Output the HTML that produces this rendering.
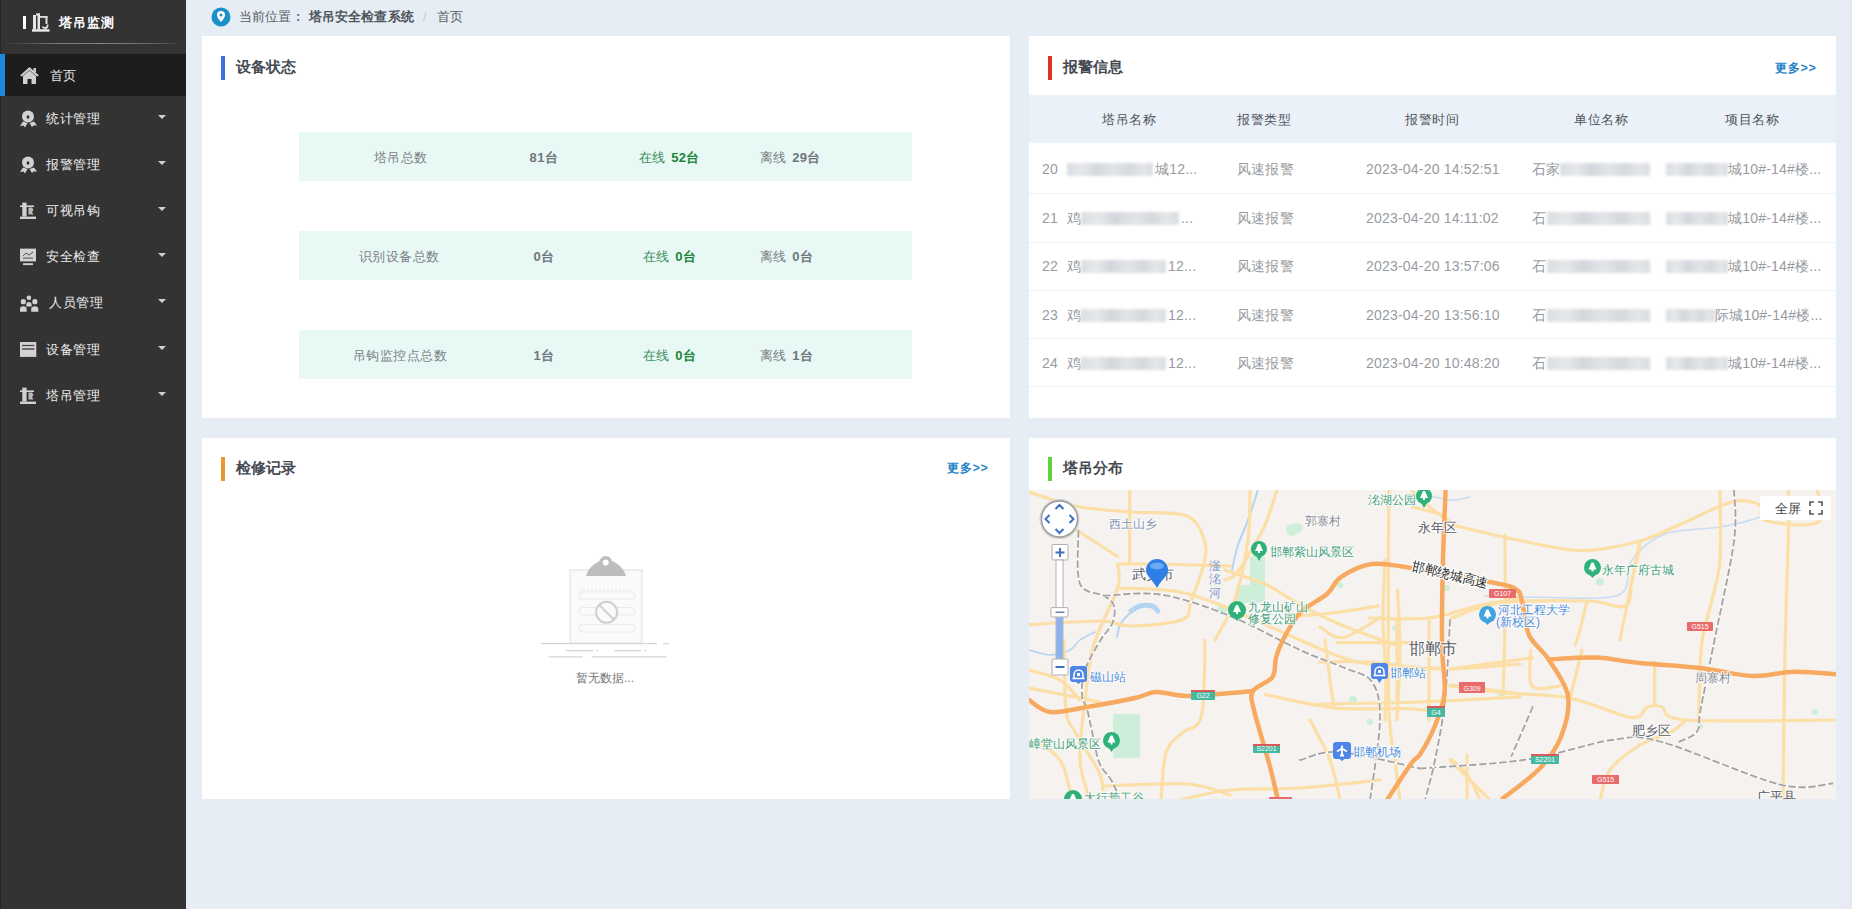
<!DOCTYPE html>
<html><head><meta charset="utf-8">
<style>
*{margin:0;padding:0;box-sizing:border-box}
html,body{width:1870px;height:909px;overflow:hidden;background:#fff;font-family:"Liberation Sans",sans-serif;}
.abs{position:absolute}
#side{position:absolute;left:0;top:0;width:186px;height:909px;background:#333333}
#main{position:absolute;left:186px;top:0;width:1666px;height:909px;background:#e7edf5}
#strip{position:absolute;left:1840px;top:0;width:12px;height:909px;background:linear-gradient(90deg,#e8eaf6 0,#e8eaf6 10px,#e4e8ee 10px)}
.card{position:absolute;background:#fff}
.bar{position:absolute;width:4px;height:24px}
.ttl{position:absolute;font-size:15px;font-weight:900;color:#454a52;line-height:16px;white-space:nowrap}
.more{position:absolute;font-size:12px;font-weight:bold;color:#2482c6;line-height:12px;letter-spacing:0.9px;white-space:nowrap}
.mi{position:absolute;left:0;width:186px;height:42px;color:#e6e6e6;font-size:13px}
.mi .t{position:absolute;left:46px;top:15px;line-height:13px;letter-spacing:0.6px;color:#eeeeee;white-space:nowrap}
.mi .ar{position:absolute;left:158px;top:18px;width:0;height:0;border-left:4.5px solid transparent;border-right:4.5px solid transparent;border-top:4.5px solid #d0d0d0}
.mi svg{position:absolute;left:20px;top:12px}
.srow{position:absolute;left:97px;width:613px;height:49px;background:#e8f8f5;font-size:13px;color:#7a7f85}
.srow span{position:absolute;top:19px;line-height:13px;white-space:nowrap}
.srow b{color:#6f757c;letter-spacing:0.4px;margin-left:2.5px}
.srow .lb{letter-spacing:0.45px}
.on{color:#3d8f5c}
.on b{color:#1b8535 !important}
.th{position:absolute;top:18px;font-size:13px;color:#50545a;letter-spacing:0.5px;line-height:13px;white-space:nowrap}
.tr{position:absolute;left:0;width:807px;height:49px;border-bottom:1px solid #eef1f5}
.td{position:absolute;top:19px;font-size:14px;color:#979ba1;letter-spacing:0.2px;line-height:14px;white-space:nowrap}
.blur{position:absolute;background:linear-gradient(90deg,#dadde1,#e6e8eb 18%,#d3d6db 35%,#e2e5e8 55%,#d5d8dc 72%,#e4e6e9 88%,#d9dce0);filter:blur(1.5px)}
</style></head>
<body>
<div id="side">
  <div class="abs" style="left:0;top:0;width:1px;height:909px;background:#272727"></div>
  <!-- logo -->
  <div class="abs" style="left:23px;top:16px;width:3px;height:13px;background:#fff"></div>
  <svg class="abs" style="left:32px;top:13px" width="19" height="19" viewBox="0 0 19 19">
    <rect x="1" y="2" width="3" height="14.5" fill="#e6e6e6"/>
    <rect x="5.5" y="0.5" width="2.5" height="16" fill="#e6e6e6"/>
    <rect x="4" y="0.5" width="4" height="2" fill="#e6e6e6"/>
    <rect x="8" y="3" width="7.5" height="1.8" fill="#e0e0e0"/>
    <rect x="13.5" y="3" width="2" height="8" fill="#e0e0e0"/>
    <path d="M15.5,11.5 q0.5,3.5 -2.5,3.5 q-2,0 -2.5,-1.5" stroke="#e0e0e0" stroke-width="1.8" fill="none"/>
    <rect x="0" y="16.2" width="17.5" height="2.5" fill="#e6e6e6"/>
  </svg>
  <div class="abs" style="left:59px;top:16px;font-size:13px;font-weight:bold;color:#fff;line-height:13px;letter-spacing:1px;white-space:nowrap">塔吊监测</div>
  <div class="abs" style="left:6px;top:43px;width:172px;height:1px;background:linear-gradient(90deg,#3a3a3a,#4e4e4e 12%,#7a7a7a 30%,#858585 55%,#6a6a6a 85%,#3a3a3a)"></div>
  <!-- active -->
  <div class="abs" style="left:0;top:54px;width:186px;height:42px;background:#1d1d1d"></div>
  <div class="abs" style="left:0;top:54px;width:5px;height:42px;background:#1a8be0"></div>
  <svg class="abs" style="left:20px;top:67px" width="19" height="17" viewBox="0 0 19 17">
    <path d="M9.5 0 L0 8.5 L2 9.5 L9.5 3 L17 9.5 L19 8.5 Z" fill="#cfcfcf"/>
    <path d="M3 9 L9.5 3.5 L16 9 V17 H11.5 V12 H7.5 V17 H3 Z" fill="#cfcfcf"/>
    <rect x="13.5" y="1" width="2.5" height="4" fill="#cfcfcf"/>
  </svg>
  <div class="abs" style="left:50px;top:69px;font-size:13px;color:#e8e8e8;line-height:13px">首页</div>
  <!-- menu items -->
  <div class="mi" style="top:97px"><svg width="18" height="19" viewBox="0 0 18 19"><path d="M3,12.5 L0,17 L3.5,16.5 L5,18.5 L7.5,14 Z M14,12.5 L17,16.5 L13.5,16.5 L12,18 L9.5,14 Z" fill="#d2d2d2"/><circle cx="8" cy="7.5" r="6" fill="#d2d2d2"/><ellipse cx="8" cy="8" rx="1.4" ry="1.8" fill="#2a2a2a"/></svg><div class="t">统计管理</div><div class="ar"></div></div>
  <div class="mi" style="top:143px"><svg width="18" height="19" viewBox="0 0 18 19"><path d="M3,12.5 L0,17 L3.5,16.5 L5,18.5 L7.5,14 Z M14,12.5 L17,16.5 L13.5,16.5 L12,18 L9.5,14 Z" fill="#d2d2d2"/><circle cx="8" cy="7.5" r="6" fill="#d2d2d2"/><ellipse cx="8" cy="8" rx="1.4" ry="1.8" fill="#2a2a2a"/></svg><div class="t">报警管理</div><div class="ar"></div></div>
  <div class="mi" style="top:189px"><svg width="18" height="19" viewBox="0 0 18 19"><rect x="2.3" y="1.6" width="4.3" height="14" fill="#d2d2d2"/><rect x="0" y="4.4" width="14" height="1.6" fill="#d2d2d2"/><path d="M8.5,6.5 h3.5 l1.5,2.5 l-1.5,2 l1.5,2.5 h-5z" fill="#d2d2d2" opacity="0.85"/><rect x="0" y="15.6" width="16" height="2.4" fill="#d2d2d2"/></svg><div class="t">可视吊钩</div><div class="ar"></div></div>
  <div class="mi" style="top:235px"><svg width="18" height="19" viewBox="0 0 18 19"><rect x="0" y="1.6" width="16" height="12.8" fill="#d2d2d2"/><path d="M3,9 L6,6 L9,8 L13,5" stroke="#555" stroke-width="1" fill="none"/><rect x="3" y="10.5" width="10" height="1.2" fill="#666"/><rect x="3" y="16.2" width="10" height="1.9" fill="#d2d2d2"/></svg><div class="t">安全检查</div><div class="ar"></div></div>
  <div class="mi" style="top:281px"><svg width="19" height="19" viewBox="0 0 19 19"><circle cx="8.9" cy="4.7" r="2.3" fill="#d2d2d2"/><circle cx="3.3" cy="8.7" r="2.6" fill="#d2d2d2"/><circle cx="14.9" cy="8.7" r="2.6" fill="#d2d2d2"/><path d="M6.3,13.6 v-2 q0,-2.6 2.6,-2.6 q2.7,0 2.7,2.6 v2z" fill="#d2d2d2"/><path d="M0,18.7 v-3 q0,-2.5 3.3,-2.5 q3.3,0 3.3,2.5 v3z M11.2,18.7 v-3 q0,-2.5 3.6,-2.5 q3.5,0 3.5,2.5 v3z" fill="#d2d2d2"/></svg><div class="t" style="left:49px">人员管理</div><div class="ar"></div></div>
  <div class="mi" style="top:328px"><svg width="18" height="19" viewBox="0 0 18 19"><rect x="0" y="2" width="16.3" height="14.9" fill="#d2d2d2"/><rect x="2" y="4.9" width="12.3" height="1.2" fill="#444"/><rect x="2" y="8.3" width="12.3" height="1.4" fill="#444"/></svg><div class="t">设备管理</div><div class="ar"></div></div>
  <div class="mi" style="top:374px"><svg width="18" height="19" viewBox="0 0 18 19"><rect x="2.3" y="1.6" width="4.3" height="14" fill="#d2d2d2"/><rect x="0" y="4.4" width="14" height="1.6" fill="#d2d2d2"/><path d="M8.5,6.5 h3.5 l1.5,2.5 l-1.5,2 l1.5,2.5 h-5z" fill="#d2d2d2" opacity="0.85"/><rect x="0" y="15.6" width="16" height="2.4" fill="#d2d2d2"/></svg><div class="t">塔吊管理</div><div class="ar"></div></div>
</div>

<div id="main">
  <!-- breadcrumb -->
  <svg class="abs" style="left:25px;top:7px" width="20" height="20" viewBox="0 0 20 20">
    <circle cx="10" cy="10" r="9.5" fill="#1a90c8"/>
    <path d="M10 4 a4 4 0 0 1 4 4 c0 3 -4 7 -4 7 c0 0 -4 -4 -4 -7 a4 4 0 0 1 4 -4z" fill="#fff"/>
    <circle cx="10" cy="8" r="1.5" fill="#1a90c8"/>
  </svg>
  <div class="abs" style="left:53px;top:10px;font-size:13px;color:#5a5e64;line-height:13px;white-space:nowrap">当前位置</div>
  <div class="abs" style="left:110px;top:10px;font-size:13px;font-weight:bold;color:#5a5e64;line-height:13px">:</div>
  <div class="abs" style="left:123px;top:10px;font-size:13px;font-weight:bold;color:#50555c;line-height:13px;letter-spacing:0.1px;white-space:nowrap">塔吊安全检查系统</div>
  <div class="abs" style="left:237px;top:10px;font-size:13px;color:#c4c8ce;line-height:13px">/</div>
  <div class="abs" style="left:251px;top:10px;font-size:13px;color:#5a5e64;line-height:13px;white-space:nowrap">首页</div>
</div>
<div id="strip"></div>

<!-- card 1 -->
<div class="card" style="left:202px;top:36px;width:808px;height:382px">
  <div class="bar" style="left:19px;top:20px;background:#3b70e0"></div>
  <div class="ttl" style="left:34px;top:23px">设备状态</div>
  <div class="srow" style="top:96px"><span class="lb" style="left:75px">塔吊总数</span><span style="left:228px"><b>81台</b></span><span class="on" style="left:340px">在线 <b>52台</b></span><span style="left:461px">离线 <b>29台</b></span></div>
  <div class="srow" style="top:195px"><span class="lb" style="left:60px">识别设备总数</span><span style="left:232px"><b>0台</b></span><span class="on" style="left:344px">在线 <b>0台</b></span><span style="left:461px">离线 <b>0台</b></span></div>
  <div class="srow" style="top:294px"><span class="lb" style="left:54px">吊钩监控点总数</span><span style="left:232px"><b>1台</b></span><span class="on" style="left:344px">在线 <b>0台</b></span><span style="left:461px">离线 <b>1台</b></span></div>
</div>

<!-- card 2 -->
<div class="card" style="left:1029px;top:36px;width:807px;height:382px;overflow:hidden">
  <div class="bar" style="left:19px;top:20px;background:#e0302a"></div>
  <div class="ttl" style="left:34px;top:23px">报警信息</div>
  <div class="more" style="left:746px;top:26px">更多&gt;&gt;</div>
  <div class="abs" style="left:0;top:59px;width:807px;height:48px;background:#eaf1f9">
    <div class="th" style="left:73px">塔吊名称</div>
    <div class="th" style="left:208px">报警类型</div>
    <div class="th" style="left:376px">报警时间</div>
    <div class="th" style="left:545px">单位名称</div>
    <div class="th" style="left:696px">项目名称</div>
  </div>
  <div class="tr" style="top:107px;height:51px">
<div class="td" style="left:13px">20</div>
<div class="blur" style="left:38px;top:20px;width:86px;height:13px"></div>
<div class="td" style="left:126px">城12...</div>
<div class="td" style="left:208px">风速报警</div>
<div class="td" style="left:337px">2023-04-20 14:52:51</div>
<div class="td" style="left:503px">石家</div>
<div class="blur" style="left:531px;top:20px;width:90px;height:13px"></div>
<div class="blur" style="left:637px;top:20px;width:62px;height:13px"></div>
<div class="td" style="left:699px">城10#-14#楼...</div>
</div>
<div class="tr" style="top:156px;height:51px">
<div class="td" style="left:13px">21</div>
<div class="td" style="left:38px">鸡</div>
<div class="blur" style="left:52px;top:20px;width:98px;height:13px"></div>
<div class="td" style="left:152px">...</div>
<div class="td" style="left:208px">风速报警</div>
<div class="td" style="left:337px">2023-04-20 14:11:02</div>
<div class="td" style="left:503px">石</div>
<div class="blur" style="left:518px;top:20px;width:103px;height:13px"></div>
<div class="blur" style="left:637px;top:20px;width:62px;height:13px"></div>
<div class="td" style="left:699px">城10#-14#楼...</div>
</div>
<div class="tr" style="top:204px;height:51px">
<div class="td" style="left:13px">22</div>
<div class="td" style="left:38px">鸡</div>
<div class="blur" style="left:52px;top:20px;width:85px;height:13px"></div>
<div class="td" style="left:139px">12...</div>
<div class="td" style="left:208px">风速报警</div>
<div class="td" style="left:337px">2023-04-20 13:57:06</div>
<div class="td" style="left:503px">石</div>
<div class="blur" style="left:518px;top:20px;width:103px;height:13px"></div>
<div class="blur" style="left:637px;top:20px;width:62px;height:13px"></div>
<div class="td" style="left:699px">城10#-14#楼...</div>
</div>
<div class="tr" style="top:253px;height:50px">
<div class="td" style="left:13px">23</div>
<div class="td" style="left:38px">鸡</div>
<div class="blur" style="left:52px;top:20px;width:85px;height:13px"></div>
<div class="td" style="left:139px">12...</div>
<div class="td" style="left:208px">风速报警</div>
<div class="td" style="left:337px">2023-04-20 13:56:10</div>
<div class="td" style="left:503px">石</div>
<div class="blur" style="left:518px;top:20px;width:103px;height:13px"></div>
<div class="blur" style="left:637px;top:20px;width:49px;height:13px"></div>
<div class="td" style="left:686px">际城10#-14#楼...</div>
</div>
<div class="tr" style="top:301px;height:50px">
<div class="td" style="left:13px">24</div>
<div class="td" style="left:38px">鸡</div>
<div class="blur" style="left:52px;top:20px;width:85px;height:13px"></div>
<div class="td" style="left:139px">12...</div>
<div class="td" style="left:208px">风速报警</div>
<div class="td" style="left:337px">2023-04-20 10:48:20</div>
<div class="td" style="left:503px">石</div>
<div class="blur" style="left:518px;top:20px;width:103px;height:13px"></div>
<div class="blur" style="left:637px;top:20px;width:62px;height:13px"></div>
<div class="td" style="left:699px">城10#-14#楼...</div>
</div></div>
</div>

<!-- card 3 -->
<div class="card" style="left:202px;top:438px;width:808px;height:361px">
  <div class="bar" style="left:19px;top:19px;background:#e8982e"></div>
  <div class="ttl" style="left:34px;top:22px">检修记录</div>
  <div class="more" style="left:745px;top:24px">更多&gt;&gt;</div>
  <svg class="abs" style="left:0;top:0" width="808" height="361" viewBox="0 0 808 361">
<rect x="368" y="132" width="72" height="73" fill="#fafafa" stroke="#e3e3e3" stroke-width="1.2"/>
<path d="M384,138 Q388,125 404,121 Q420,125 424,138Z" fill="#bdbdbd"/>
<circle cx="403.70000000000005" cy="124.5" r="6.5" fill="#bdbdbd"/>
<circle cx="403.70000000000005" cy="124.5" r="3" fill="#fff"/>
<path d="M377,152 h56" stroke="#e2e2e2" stroke-width="1" stroke-dasharray="2 2"/>
<rect x="377" y="154" width="56" height="7" rx="3.5" fill="none" stroke="#eaeaea" stroke-width="1"/>
<rect x="377" y="169.5" width="56" height="7.5" rx="3.7" fill="none" stroke="#eaeaea" stroke-width="1"/>
<rect x="377" y="186.5" width="56" height="7.5" rx="3.7" fill="none" stroke="#eaeaea" stroke-width="1"/>
<circle cx="404.6" cy="174.29999999999995" r="10.5" fill="#fafafa" stroke="#cfcfcf" stroke-width="2"/>
<path d="M397.20000000000005,166.89999999999998 L412,181.70000000000005" stroke="#cfcfcf" stroke-width="2"/>
<path d="M339,205.70000000000005 H455 M461,205.70000000000005 H467" stroke="#d6d6d6" stroke-width="1.3"/>
<path d="M363.5,212.70000000000005 H391.5 M394,212.70000000000005 H396 M412,212.70000000000005 H439 M442,212.70000000000005 H444" stroke="#d6d6d6" stroke-width="1.2"/>
<path d="M346.6,218.79999999999995 H381 M389.70000000000005,218.79999999999995 H464.5" stroke="#d6d6d6" stroke-width="1.3"/>
</svg>
  <div class="abs" style="left:374px;top:234px;font-size:12px;color:#777;line-height:12px;white-space:nowrap">暂无数据...</div>
</div>

<!-- card 4 -->
<div class="card" style="left:1029px;top:438px;width:807px;height:361px;overflow:hidden">
  <div class="bar" style="left:19px;top:19px;background:#5fd33a"></div>
  <div class="ttl" style="left:34px;top:22px">塔吊分布</div>
  <div id="map" class="abs" style="left:0;top:52px;width:807px;height:309px;background:#f6f2ef"><svg width="807" height="309" viewBox="0 0 807 309" style="position:absolute;left:0;top:0;font-family:'Liberation Sans',sans-serif"><rect x="84.0" y="224.0" width="27.0" height="44.0" fill="#cdeed8" rx="2"/><path d="M61.0,40.0 C61.8,41.7 65.2,48.3 66.0,50.0" fill="none" stroke="#cdeed8" stroke-width="0" stroke-linejoin="round" stroke-linecap="round" /><circle cx="269" cy="38" r="5" fill="#cdeed8"/><circle cx="311" cy="95" r="3" fill="#cdeed8"/><circle cx="418" cy="98" r="3" fill="#cdeed8"/><circle cx="571" cy="92" r="4" fill="#cdeed8"/><circle cx="324" cy="210" r="4" fill="#cdeed8"/><circle cx="341" cy="232" r="3" fill="#cdeed8"/><circle cx="471" cy="205" r="2" fill="#cdeed8"/><circle cx="671" cy="236" r="3" fill="#cdeed8"/><circle cx="786" cy="222" r="3" fill="#cdeed8"/><circle cx="193" cy="120" r="5" fill="#cdeed8"/><circle cx="366" cy="138" r="3" fill="#cdeed8"/><rect x="221.0" y="66.0" width="15.0" height="46.0" fill="#cdeed8" rx="3"/><rect x="207.0" y="95.0" width="26.0" height="18.0" fill="#cdeed8" rx="3"/><circle cx="263" cy="40" r="6" fill="#cdeed8"/><path d="M102.0,121.0 C103.5,120.2 107.5,116.8 111.0,116.0 C114.5,115.2 120.0,115.2 123.0,116.0 C126.0,116.8 128.0,120.2 129.0,121.0" fill="none" stroke="#b5d4f2" stroke-width="5" stroke-linejoin="round" stroke-linecap="round" /><path d="M88.0,147.0 C88.5,145.0 89.2,138.7 91.0,135.0 C92.8,131.3 96.5,127.5 99.0,125.0 C101.5,122.5 104.8,120.8 106.0,120.0" fill="none" stroke="#b5d4f2" stroke-width="2" stroke-linejoin="round" stroke-linecap="round" /><path d="M0.0,160.0 C3.5,160.8 14.2,165.0 21.0,165.0 C27.8,165.0 36.0,162.5 41.0,160.0 C46.0,157.5 46.8,153.0 51.0,150.0 C55.2,147.0 63.5,143.3 66.0,142.0" fill="none" stroke="#b5d4f2" stroke-width="1.5" stroke-linejoin="round" stroke-linecap="round" /><path d="M229.0,0.0 C227.3,5.0 222.3,20.8 219.0,30.0 C215.7,39.2 211.7,46.7 209.0,55.0 C206.3,63.3 204.0,75.8 203.0,80.0" fill="none" stroke="#b5d4f2" stroke-width="2" stroke-linejoin="round" stroke-linecap="round" /><path d="M456.0,106.0 C463.5,106.2 481.8,106.7 501.0,107.0 C520.2,107.3 555.2,109.2 571.0,108.0 C586.8,106.8 590.7,106.3 596.0,100.0 C601.3,93.7 596.3,79.3 603.0,70.0 C609.7,60.7 621.3,49.5 636.0,44.0 C650.7,38.5 675.2,39.8 691.0,37.0 C706.8,34.2 721.8,30.7 731.0,27.0 C740.2,23.3 743.5,17.0 746.0,15.0" fill="none" stroke="#c8dcf2" stroke-width="1.5" stroke-linejoin="round" stroke-linecap="round" /><path d="M391.0,3.0 C396.0,4.2 412.7,9.3 421.0,10.0 C429.3,10.7 437.7,7.5 441.0,7.0" fill="none" stroke="#c8dcf2" stroke-width="1.5" stroke-linejoin="round" stroke-linecap="round" /><path d="M0.0,2.0 C7.7,4.3 29.2,12.7 46.0,16.0 C62.8,19.3 82.5,20.4 101.0,22.0 C119.5,23.6 144.6,20.8 157.0,25.6 C169.4,30.4 172.8,42.5 175.6,51.0 C178.4,59.5 176.3,66.7 174.0,76.7 C171.7,86.7 165.4,102.0 162.0,110.8 C158.6,119.6 163.4,125.4 153.4,129.6 C143.4,133.8 115.6,135.8 102.0,136.0 C88.4,136.2 88.6,131.2 71.6,131.0 C54.6,130.8 11.9,134.1 0.0,134.7" fill="none" stroke="#fbdfa6" stroke-width="3.2" stroke-linejoin="round" stroke-linecap="round" /><path d="M90.0,74.0 C96.8,74.0 112.5,73.7 131.0,74.0 C149.5,74.3 189.3,75.7 201.0,76.0" fill="none" stroke="#fbdfa6" stroke-width="3.2" stroke-linejoin="round" stroke-linecap="round" /><path d="M88.6,98.0 C99.0,98.7 132.3,98.5 151.0,102.0 C169.7,105.5 181.0,111.0 201.0,119.0 C221.0,127.0 251.0,141.5 271.0,150.0 C291.0,158.5 304.3,165.3 321.0,170.0 C337.7,174.7 355.5,176.7 371.0,178.0 C386.5,179.3 406.8,178.0 414.0,178.0" fill="none" stroke="#fbdfa6" stroke-width="3.2" stroke-linejoin="round" stroke-linecap="round" /><path d="M88.6,74.0 C88.6,78.0 92.6,84.5 88.6,98.0 C84.6,111.5 70.2,136.3 64.8,155.0 C59.4,173.7 58.3,190.8 56.0,210.0 C53.7,229.2 50.2,253.3 51.0,270.0 C51.8,286.7 59.3,303.3 61.0,310.0" fill="none" stroke="#fbdfa6" stroke-width="3.2" stroke-linejoin="round" stroke-linecap="round" /><path d="M100.6,0.0 C100.6,12.3 100.6,61.7 100.6,74.0" fill="none" stroke="#fbdfa6" stroke-width="3.2" stroke-linejoin="round" stroke-linecap="round" /><path d="M46.0,39.0 C53.1,43.6 81.5,61.9 88.6,66.5" fill="none" stroke="#fbdfa6" stroke-width="3.2" stroke-linejoin="round" stroke-linecap="round" /><path d="M0.0,180.0 C5.2,181.7 22.5,185.0 31.0,190.0 C39.5,195.0 47.7,206.7 51.0,210.0" fill="none" stroke="#fbdfa6" stroke-width="3.2" stroke-linejoin="round" stroke-linecap="round" /><path d="M221.0,0.0 C220.7,8.3 221.5,31.7 219.0,50.0 C216.5,68.3 211.5,93.3 206.0,110.0 C200.5,126.7 189.3,143.3 186.0,150.0" fill="none" stroke="#fbdfa6" stroke-width="3.2" stroke-linejoin="round" stroke-linecap="round" /><path d="M151.0,310.0 C159.3,308.3 181.0,302.0 201.0,300.0 C221.0,298.0 246.0,299.7 271.0,298.0 C296.0,296.3 337.7,291.3 351.0,290.0" fill="none" stroke="#fbdfa6" stroke-width="3.2" stroke-linejoin="round" stroke-linecap="round" /><path d="M236.5,204.6 C247.9,206.8 281.6,215.4 305.0,217.8 C328.4,220.1 358.8,218.0 377.0,218.7 C395.2,219.4 407.8,221.5 414.0,222.0" fill="none" stroke="#fbdfa6" stroke-width="3.2" stroke-linejoin="round" stroke-linecap="round" /><path d="M296.0,150.0 C296.8,156.7 299.5,178.7 301.0,190.0 C302.5,201.3 304.3,213.2 305.0,217.8" fill="none" stroke="#fbdfa6" stroke-width="3.2" stroke-linejoin="round" stroke-linecap="round" /><path d="M359.7,0.0 C359.7,35.0 358.7,165.0 359.7,210.0 C360.8,255.0 364.1,253.3 366.0,270.0 C367.9,286.7 370.2,303.3 371.0,310.0" fill="none" stroke="#fbdfa6" stroke-width="3.2" stroke-linejoin="round" stroke-linecap="round" /><path d="M368.0,130.0 C368.0,143.3 368.0,196.7 368.0,210.0" fill="none" stroke="#fbdfa6" stroke-width="3.2" stroke-linejoin="round" stroke-linecap="round" /><path d="M427.0,36.0 C438.0,38.5 472.0,46.9 493.0,51.0 C514.0,55.1 533.3,60.5 553.0,60.5 C572.7,60.5 594.5,55.4 611.0,51.0 C627.5,46.6 636.7,40.5 652.0,34.0 C667.3,27.5 689.9,15.2 703.0,12.0 C716.1,8.8 724.8,11.9 730.5,15.0 C736.2,18.1 727.3,27.8 737.0,30.7 C746.7,33.6 779.9,37.5 788.5,32.4 C797.1,27.3 788.5,5.4 788.5,0.0" fill="none" stroke="#fbdfa6" stroke-width="3.2" stroke-linejoin="round" stroke-linecap="round" /><path d="M383.0,0.0 C384.3,1.7 383.7,4.0 391.0,10.0 C398.3,16.0 421.0,31.7 427.0,36.0" fill="none" stroke="#fbdfa6" stroke-width="3.2" stroke-linejoin="round" stroke-linecap="round" /><path d="M476.0,45.0 C476.0,59.2 476.3,102.8 476.0,130.0 C475.7,157.2 474.3,195.0 474.0,208.0" fill="none" stroke="#fbdfa6" stroke-width="3.2" stroke-linejoin="round" stroke-linecap="round" /><path d="M421.0,179.0 C434.8,177.1 489.9,169.5 503.7,167.6" fill="none" stroke="#fbdfa6" stroke-width="3.2" stroke-linejoin="round" stroke-linecap="round" /><path d="M421.0,195.8 C430.1,197.0 455.6,200.8 475.5,202.8 C495.4,204.8 519.5,203.9 540.6,208.0 C561.7,212.1 589.0,226.0 602.0,227.5 C615.0,229.0 613.5,218.8 618.6,217.0 C623.7,215.2 626.3,214.8 632.7,217.0 C639.1,219.2 628.3,227.8 657.0,230.0 C685.7,232.2 780.3,230.0 805.0,230.0" fill="none" stroke="#fbdfa6" stroke-width="3.2" stroke-linejoin="round" stroke-linecap="round" /><path d="M691.0,0.0 C691.0,11.7 692.3,51.7 691.0,70.0 C689.7,88.3 686.1,95.8 683.0,110.0 C679.9,124.2 674.8,135.2 672.6,155.0 C670.4,174.8 670.2,216.7 669.7,229.0" fill="none" stroke="#fbdfa6" stroke-width="3.2" stroke-linejoin="round" stroke-linecap="round" /><path d="M759.5,0.0 C759.5,6.7 760.1,13.3 759.5,40.0 C758.9,66.7 756.9,115.0 756.0,160.0 C755.1,205.0 754.3,285.0 754.0,310.0" fill="none" stroke="#fbdfa6" stroke-width="3.2" stroke-linejoin="round" stroke-linecap="round" /><path d="M625.6,172.0 C625.6,179.3 625.6,208.7 625.6,216.0" fill="none" stroke="#fbdfa6" stroke-width="3.2" stroke-linejoin="round" stroke-linecap="round" /><path d="M657.0,230.0 C654.7,231.9 650.7,237.3 643.0,241.5 C635.3,245.7 621.3,248.6 611.0,255.0 C600.7,261.4 587.7,270.8 581.0,280.0 C574.3,289.2 572.7,305.0 571.0,310.0" fill="none" stroke="#fbdfa6" stroke-width="3.2" stroke-linejoin="round" stroke-linecap="round" /><path d="M553.0,160.0 C551.0,168.0 543.0,200.0 541.0,208.0" fill="none" stroke="#fbdfa6" stroke-width="3.2" stroke-linejoin="round" stroke-linecap="round" /><path d="M611.0,51.0 C609.7,57.5 606.3,73.5 603.0,90.0 C599.7,106.5 593.0,140.0 591.0,150.0" fill="none" stroke="#fbdfa6" stroke-width="3.2" stroke-linejoin="round" stroke-linecap="round" /><path d="M421.0,270.0 C426.0,275.0 444.3,293.3 451.0,300.0 C457.7,306.7 459.3,308.3 461.0,310.0" fill="none" stroke="#fbdfa6" stroke-width="3.2" stroke-linejoin="round" stroke-linecap="round" /><path d="M6.0,250.0 C10.2,253.3 25.2,261.7 31.0,270.0 C36.8,278.3 39.3,295.0 41.0,300.0" fill="none" stroke="#fbdfa6" stroke-width="3.2" stroke-linejoin="round" stroke-linecap="round" /><path d="M356.0,70.0 C355.7,80.0 353.8,110.0 354.0,130.0 C354.2,150.0 356.7,173.3 357.0,190.0 C357.3,206.7 356.2,223.3 356.0,230.0" fill="none" stroke="#fbdfa6" stroke-width="3.2" stroke-linejoin="round" stroke-linecap="round" /><path d="M368.5,100.0 C368.9,110.0 371.1,138.3 371.0,160.0 C370.9,181.7 368.5,218.3 368.0,230.0" fill="none" stroke="#fbdfa6" stroke-width="3.2" stroke-linejoin="round" stroke-linecap="round" /><path d="M400.0,130.0 C400.0,146.7 400.0,213.3 400.0,230.0" fill="none" stroke="#fbdfa6" stroke-width="3.2" stroke-linejoin="round" stroke-linecap="round" /><path d="M423.0,270.0 C425.7,272.7 434.3,279.3 439.0,286.0 C443.7,292.7 449.0,306.0 451.0,310.0" fill="none" stroke="#fbdfa6" stroke-width="3.2" stroke-linejoin="round" stroke-linecap="round" /><path d="M308.6,152.7 C321.5,152.7 373.1,152.7 386.0,152.7" fill="none" stroke="#fbdfa6" stroke-width="3.2" stroke-linejoin="round" stroke-linecap="round" /><path d="M340.0,128.0 C350.0,128.0 381.8,130.0 400.0,128.0 C418.2,126.0 433.8,119.1 449.0,115.8 C464.2,112.5 484.0,109.3 491.0,108.0" fill="none" stroke="#fbdfa6" stroke-width="3.2" stroke-linejoin="round" stroke-linecap="round" /><path d="M291.0,172.0 C299.2,172.0 320.0,170.8 340.0,172.0 C360.0,173.2 385.8,178.7 411.0,179.0 C436.2,179.3 477.7,174.8 491.0,174.0" fill="none" stroke="#fbdfa6" stroke-width="3.2" stroke-linejoin="round" stroke-linecap="round" /><path d="M291.0,214.0 C307.7,213.7 357.7,213.2 391.0,212.0 C424.3,210.8 474.3,207.8 491.0,207.0" fill="none" stroke="#fbdfa6" stroke-width="3.2" stroke-linejoin="round" stroke-linecap="round" /><path d="M423.0,195.0 C434.3,196.5 479.7,202.3 491.0,203.8" fill="none" stroke="#fbdfa6" stroke-width="3.2" stroke-linejoin="round" stroke-linecap="round" /><path d="M291.0,137.0 C294.8,138.8 303.5,149.3 314.0,147.5 C324.5,145.7 347.3,129.6 354.0,126.0" fill="none" stroke="#fbdfa6" stroke-width="3.2" stroke-linejoin="round" stroke-linecap="round" /><path d="M35.0,150.0 C35.3,161.7 35.2,204.8 37.0,220.0 C38.8,235.2 40.3,231.2 45.8,241.5 C51.3,251.8 65.3,272.3 70.0,282.0 C74.7,291.7 73.3,296.7 74.0,299.6" fill="none" stroke="#fbdfa6" stroke-width="3.2" stroke-linejoin="round" stroke-linecap="round" /><path d="M176.0,150.0 C175.4,162.6 176.3,210.2 172.5,225.7 C168.7,241.2 158.9,236.8 153.0,243.0 C147.1,249.2 140.5,251.5 137.0,262.7 C133.5,273.9 132.8,302.1 132.0,310.0" fill="none" stroke="#fbdfa6" stroke-width="3.2" stroke-linejoin="round" stroke-linecap="round" /><path d="M75.7,296.0 C89.5,295.7 137.6,292.5 158.5,294.0 C179.4,295.5 193.9,303.2 201.0,305.0" fill="none" stroke="#fbdfa6" stroke-width="3.2" stroke-linejoin="round" stroke-linecap="round" /><path d="M0.0,198.0 C5.2,199.0 19.2,201.7 31.0,204.0 C42.8,206.3 64.3,210.7 71.0,212.0" fill="none" stroke="#fbdfa6" stroke-width="3.2" stroke-linejoin="round" stroke-linecap="round" /><path d="M281.0,230.0 C284.3,236.7 296.0,256.7 301.0,270.0 C306.0,283.3 309.3,303.3 311.0,310.0" fill="none" stroke="#fbdfa6" stroke-width="3.2" stroke-linejoin="round" stroke-linecap="round" /><path d="M438.0,265.0 C438.0,272.5 438.0,302.5 438.0,310.0" fill="none" stroke="#fbdfa6" stroke-width="3.2" stroke-linejoin="round" stroke-linecap="round" /><path d="M196.0,80.0 C203.1,82.6 225.3,89.2 238.6,95.5 C251.9,101.8 263.3,110.9 276.0,117.6 C288.7,124.4 300.0,129.8 315.0,136.0 C330.0,142.2 357.5,151.8 366.0,155.0" fill="none" stroke="#fbdfa6" stroke-width="3.2" stroke-linejoin="round" stroke-linecap="round" /><path d="M248.0,0.0 C246.0,5.8 241.0,23.7 236.0,35.0 C231.0,46.3 223.0,59.7 218.0,68.0 C213.0,76.3 209.7,81.3 206.0,85.0 C202.3,88.7 197.7,89.2 196.0,90.0" fill="none" stroke="#fbdfa6" stroke-width="3.2" stroke-linejoin="round" stroke-linecap="round" /><path d="M383.6,17.0 C388.2,18.2 406.4,22.8 411.0,24.0" fill="none" stroke="#fbdfa6" stroke-width="3.2" stroke-linejoin="round" stroke-linecap="round" /><path d="M271.0,126.0 C277.7,125.3 298.0,123.7 311.0,122.0 C324.0,120.3 342.7,117.0 349.0,116.0" fill="none" stroke="#fbdfa6" stroke-width="3.2" stroke-linejoin="round" stroke-linecap="round" /><path d="M423.0,128.0 C431.0,125.5 448.5,115.8 471.0,113.0 C493.5,110.2 537.2,110.5 558.0,111.0 C578.8,111.5 588.5,119.5 596.0,116.0 C603.5,112.5 600.5,100.0 603.0,90.0 C605.5,80.0 609.7,61.7 611.0,56.0" fill="none" stroke="#fbdfa6" stroke-width="3.2" stroke-linejoin="round" stroke-linecap="round" /><path d="M558.0,111.0 C556.8,115.8 553.0,132.7 551.0,140.0 C549.0,147.3 546.8,152.5 546.0,155.0" fill="none" stroke="#fbdfa6" stroke-width="3.2" stroke-linejoin="round" stroke-linecap="round" /><path d="M501.7,160.6 C501.9,166.5 498.1,190.1 503.0,196.0 C507.9,201.9 526.3,196.0 531.0,196.0" fill="none" stroke="#fbdfa6" stroke-width="3.2" stroke-linejoin="round" stroke-linecap="round" /><path d="M49.4,41.0 C49.7,49.8 46.7,83.0 51.0,93.8 C55.3,104.6 69.3,102.0 75.0,105.7 C80.7,109.4 83.6,111.5 85.0,116.0 C86.4,120.5 85.7,127.3 83.5,133.0 C81.3,138.7 76.2,142.2 71.6,150.0 C67.0,157.8 59.1,170.8 56.0,180.0 C52.9,189.2 52.7,198.5 53.0,205.0 C53.3,211.5 56.3,212.6 58.0,218.7 C59.7,224.8 60.9,232.5 63.0,241.5 C65.1,250.5 67.1,264.8 70.4,273.0 C73.7,281.2 79.3,284.6 82.7,290.8 C86.1,297.0 89.6,306.8 91.0,310.0" fill="none" stroke="#ffffff" stroke-width="2.2" stroke-linejoin="round" stroke-linecap="round" /><path d="M49.4,41.0 C49.7,49.8 46.7,83.0 51.0,93.8 C55.3,104.6 69.3,102.0 75.0,105.7 C80.7,109.4 83.6,111.5 85.0,116.0 C86.4,120.5 85.7,127.3 83.5,133.0 C81.3,138.7 76.2,142.2 71.6,150.0 C67.0,157.8 59.1,170.8 56.0,180.0 C52.9,189.2 52.7,198.5 53.0,205.0 C53.3,211.5 56.3,212.6 58.0,218.7 C59.7,224.8 60.9,232.5 63.0,241.5 C65.1,250.5 67.1,264.8 70.4,273.0 C73.7,281.2 79.3,284.6 82.7,290.8 C86.1,297.0 89.6,306.8 91.0,310.0" fill="none" stroke="#a3a3a3" stroke-width="1.8" stroke-linejoin="round" stroke-linecap="round" stroke-dasharray="6 4"/><path d="M75.0,105.7 C84.7,105.6 112.0,101.4 133.0,104.8 C154.0,108.2 178.0,116.8 201.0,126.0 C224.0,135.2 251.8,151.3 271.0,160.0 C290.2,168.7 304.0,172.7 316.0,178.0 C328.0,183.3 337.2,183.3 343.0,192.0 C348.8,200.7 351.3,210.3 351.0,230.0 C350.7,249.7 342.7,296.7 341.0,310.0" fill="none" stroke="#ffffff" stroke-width="2.2" stroke-linejoin="round" stroke-linecap="round" /><path d="M75.0,105.7 C84.7,105.6 112.0,101.4 133.0,104.8 C154.0,108.2 178.0,116.8 201.0,126.0 C224.0,135.2 251.8,151.3 271.0,160.0 C290.2,168.7 304.0,172.7 316.0,178.0 C328.0,183.3 337.2,183.3 343.0,192.0 C348.8,200.7 351.3,210.3 351.0,230.0 C350.7,249.7 342.7,296.7 341.0,310.0" fill="none" stroke="#a3a3a3" stroke-width="1.8" stroke-linejoin="round" stroke-linecap="round" stroke-dasharray="6 4"/><path d="M391.0,278.5 C408.6,277.0 464.6,274.5 496.6,269.7 C528.6,265.0 560.3,253.0 583.0,250.0 C605.7,247.0 604.8,244.6 632.7,252.0 C660.6,259.4 722.1,287.5 750.6,294.4 C779.1,301.3 794.7,293.6 803.5,293.5" fill="none" stroke="#ffffff" stroke-width="2.2" stroke-linejoin="round" stroke-linecap="round" /><path d="M391.0,278.5 C408.6,277.0 464.6,274.5 496.6,269.7 C528.6,265.0 560.3,253.0 583.0,250.0 C605.7,247.0 604.8,244.6 632.7,252.0 C660.6,259.4 722.1,287.5 750.6,294.4 C779.1,301.3 794.7,293.6 803.5,293.5" fill="none" stroke="#a3a3a3" stroke-width="1.8" stroke-linejoin="round" stroke-linecap="round" stroke-dasharray="6 4"/><path d="M503.7,217.0 C500.2,225.2 486.0,257.8 482.5,266.0" fill="none" stroke="#ffffff" stroke-width="2.2" stroke-linejoin="round" stroke-linecap="round" /><path d="M503.7,217.0 C500.2,225.2 486.0,257.8 482.5,266.0" fill="none" stroke="#a3a3a3" stroke-width="1.8" stroke-linejoin="round" stroke-linecap="round" stroke-dasharray="6 4"/><path d="M705.0,0.0 C705.0,8.5 708.4,25.2 705.0,51.0 C701.6,76.8 690.1,126.8 684.5,155.0 C678.9,183.2 674.2,206.0 671.4,220.4 C668.7,234.8 671.6,236.2 668.0,241.5 C664.4,246.8 653.0,250.2 650.0,252.0" fill="none" stroke="#ffffff" stroke-width="2.2" stroke-linejoin="round" stroke-linecap="round" /><path d="M705.0,0.0 C705.0,8.5 708.4,25.2 705.0,51.0 C701.6,76.8 690.1,126.8 684.5,155.0 C678.9,183.2 674.2,206.0 671.4,220.4 C668.7,234.8 671.6,236.2 668.0,241.5 C664.4,246.8 653.0,250.2 650.0,252.0" fill="none" stroke="#a3a3a3" stroke-width="1.8" stroke-linejoin="round" stroke-linecap="round" stroke-dasharray="6 4"/><path d="M421.0,130.0 C420.2,143.3 418.5,186.7 416.0,210.0 C413.5,233.3 409.3,253.3 406.0,270.0 C402.7,286.7 397.7,303.3 396.0,310.0" fill="none" stroke="#ffffff" stroke-width="2.2" stroke-linejoin="round" stroke-linecap="round" /><path d="M421.0,130.0 C420.2,143.3 418.5,186.7 416.0,210.0 C413.5,233.3 409.3,253.3 406.0,270.0 C402.7,286.7 397.7,303.3 396.0,310.0" fill="none" stroke="#a3a3a3" stroke-width="1.8" stroke-linejoin="round" stroke-linecap="round" stroke-dasharray="6 4"/><path d="M271.0,270.0 C277.7,268.7 291.0,260.6 311.0,262.0 C331.0,263.4 377.7,275.8 391.0,278.5" fill="none" stroke="#ffffff" stroke-width="2.2" stroke-linejoin="round" stroke-linecap="round" /><path d="M271.0,270.0 C277.7,268.7 291.0,260.6 311.0,262.0 C331.0,263.4 377.7,275.8 391.0,278.5" fill="none" stroke="#a3a3a3" stroke-width="1.8" stroke-linejoin="round" stroke-linecap="round" stroke-dasharray="6 4"/><path d="M0.0,210.0 C3.5,212.0 11.3,220.8 21.0,222.0 C30.7,223.2 43.8,219.3 58.0,217.0 C72.2,214.7 94.5,210.5 106.0,208.0 C117.5,205.5 118.3,202.3 127.0,202.0 C135.7,201.7 145.7,205.8 158.0,206.0 C170.3,206.2 190.0,203.8 201.0,203.0 C212.0,202.2 220.2,201.3 224.0,201.0" fill="none" stroke="#f7a95f" stroke-width="4.5" stroke-linejoin="round" stroke-linecap="round" /><path d="M249.0,310.0 C247.5,303.8 244.0,288.0 240.0,273.0 C236.0,258.0 227.7,232.0 225.0,220.0 C222.3,208.0 220.9,206.5 224.0,201.0 C227.1,195.5 239.7,192.6 243.5,187.0 C247.3,181.4 245.2,173.8 247.0,167.6 C248.8,161.4 250.0,157.5 254.0,150.0 C258.0,142.5 263.7,130.5 271.0,122.8 C278.3,115.1 291.2,110.0 298.0,104.0 C304.8,98.0 304.6,92.0 312.0,87.0 C319.4,82.0 331.3,75.6 342.6,74.0 C353.9,72.4 360.3,74.6 380.0,77.6 C399.7,80.6 443.2,88.4 461.0,92.0 C478.8,95.6 481.2,95.8 486.5,99.0 C491.8,102.2 490.8,103.3 493.0,111.0 C495.2,118.7 495.6,135.3 500.0,145.0 C504.4,154.7 513.0,159.2 519.5,169.4 C526.0,179.6 536.9,193.1 539.0,206.0 C541.1,218.9 536.7,234.7 532.0,246.8 C527.3,258.9 520.4,268.2 510.7,278.5 C501.0,288.8 479.9,303.5 473.7,308.5" fill="none" stroke="#f7a95f" stroke-width="4.5" stroke-linejoin="round" stroke-linecap="round" /><path d="M519.5,169.4 C527.4,169.1 551.8,167.0 567.0,167.6 C582.2,168.2 593.7,171.3 611.0,173.0 C628.3,174.7 652.2,175.8 671.0,178.0 C689.8,180.2 708.4,185.4 724.0,186.0 C739.6,186.6 750.9,182.0 764.7,181.7 C778.5,181.4 800.0,183.9 807.0,184.3" fill="none" stroke="#f7a95f" stroke-width="4.5" stroke-linejoin="round" stroke-linecap="round" /><path d="M416.6,0.0 C416.2,11.7 414.6,44.2 414.0,70.0 C413.4,95.8 412.7,132.9 413.0,155.0 C413.3,177.1 416.9,189.0 415.6,202.8 C414.3,216.6 409.1,227.7 405.0,238.0 C400.9,248.3 394.7,258.6 391.0,264.4 C387.3,270.2 388.1,265.4 382.6,273.0 C377.1,280.6 362.1,303.8 358.0,310.0" fill="none" stroke="#f7a95f" stroke-width="4.5" stroke-linejoin="round" stroke-linecap="round" /><rect x="162.0" y="200.0" width="24.0" height="10.0" fill="#45b8a0" rx="1"/><rect x="162.0" y="200.0" width="24.0" height="2.0" fill="#d95a5a" /><text x="174.0" y="208.0" fill="#fff" font-size="7" text-anchor="middle">G22</text><rect x="224.0" y="254.0" width="27.0" height="9.0" fill="#45b8a0" rx="1"/><rect x="224.0" y="254.0" width="27.0" height="2.0" fill="#d95a5a" /><text x="237.5" y="261.0" fill="#fff" font-size="7" text-anchor="middle">S2201</text><rect x="460.0" y="99.0" width="27.0" height="9.0" fill="#e96a6a" rx="1"/><text x="473.5" y="106.0" fill="#fff" font-size="7" text-anchor="middle">G107</text><rect x="430.0" y="192.0" width="26.0" height="11.0" fill="#e96a6a" rx="1"/><text x="443.0" y="201.0" fill="#fff" font-size="7" text-anchor="middle">G309</text><rect x="398.0" y="216.0" width="18.0" height="11.0" fill="#45b8a0" rx="1"/><rect x="398.0" y="216.0" width="18.0" height="2.0" fill="#d95a5a" /><text x="407.0" y="225.0" fill="#fff" font-size="7" text-anchor="middle">G4</text><rect x="502.0" y="264.0" width="28.0" height="10.0" fill="#45b8a0" rx="1"/><rect x="502.0" y="264.0" width="28.0" height="2.0" fill="#d95a5a" /><text x="516.0" y="272.0" fill="#fff" font-size="7" text-anchor="middle">S2201</text><rect x="563.0" y="285.0" width="27.0" height="9.0" fill="#e96a6a" rx="1"/><text x="576.5" y="292.0" fill="#fff" font-size="7" text-anchor="middle">G515</text><rect x="658.0" y="132.0" width="26.0" height="9.0" fill="#e96a6a" rx="1"/><text x="671.0" y="139.0" fill="#fff" font-size="7" text-anchor="middle">G515</text><rect x="240.0" y="307.0" width="23.0" height="9.0" fill="#e96a6a" rx="1"/><text x="251.5" y="314.0" fill="#fff" font-size="7" text-anchor="middle"></text><text x="80.0" y="38.3" fill="#8592b5" font-size="12" stroke="#fff" stroke-width="2" stroke-opacity="0.8" paint-order="stroke" >西土山乡</text><text x="103.0" y="89.0" fill="#555a66" font-size="14" stroke="#fff" stroke-width="2" stroke-opacity="0.8" paint-order="stroke" >武安市</text><text x="180" y="80" fill="#7d9bd6" font-size="12">滏</text><text x="180" y="93" fill="#7d9bd6" font-size="12">洺</text><text x="180" y="107" fill="#7d9bd6" font-size="12">河</text><text x="276.0" y="35.3" fill="#8a8c99" font-size="12" stroke="#fff" stroke-width="2" stroke-opacity="0.8" paint-order="stroke" >郭寨村</text><text x="339.0" y="14.3" fill="#3d9f7c" font-size="12" stroke="#fff" stroke-width="2" stroke-opacity="0.8" paint-order="stroke" >洺湖公园</text><text x="389.0" y="42.2" fill="#555a66" font-size="13" stroke="#fff" stroke-width="2" stroke-opacity="0.8" paint-order="stroke" >永年区</text><text x="241.0" y="66.3" fill="#3d9f7c" font-size="12" stroke="#fff" stroke-width="2" stroke-opacity="0.8" paint-order="stroke" >邯郸紫山风景区</text><text x="219.0" y="121.3" fill="#3d9f7c" font-size="12" stroke="#fff" stroke-width="2" stroke-opacity="0.8" paint-order="stroke" >九龙山矿山</text><text x="219.0" y="133.3" fill="#3d9f7c" font-size="12" stroke="#fff" stroke-width="2" stroke-opacity="0.8" paint-order="stroke" >修复公园</text><text x="382" y="80" fill="#2a2a2a" font-size="13" stroke="#fff" stroke-width="2.5" paint-order="stroke" transform="rotate(13 382 80)">邯郸绕城高速</text><text x="573.0" y="84.3" fill="#3d9f7c" font-size="12" stroke="#fff" stroke-width="2" stroke-opacity="0.8" paint-order="stroke" >永年广府古城</text><text x="469.0" y="124.3" fill="#4a8fe0" font-size="12" stroke="#fff" stroke-width="2" stroke-opacity="0.8" paint-order="stroke" >河北工程大学</text><text x="467.0" y="136.3" fill="#4a8fe0" font-size="12" stroke="#fff" stroke-width="2" stroke-opacity="0.8" paint-order="stroke" >(新校区)</text><text x="380.0" y="164.3" fill="#555a66" font-size="15.5" stroke="#fff" stroke-width="2" stroke-opacity="0.8" paint-order="stroke" >邯郸市</text><text x="361.0" y="187.3" fill="#4a8fe0" font-size="12" stroke="#fff" stroke-width="2" stroke-opacity="0.8" paint-order="stroke" >邯郸站</text><text x="61.0" y="191.3" fill="#4a8fe0" font-size="12" stroke="#fff" stroke-width="2" stroke-opacity="0.8" paint-order="stroke" >磁山站</text><text x="0.0" y="258.3" fill="#3d9f7c" font-size="12" stroke="#fff" stroke-width="2" stroke-opacity="0.8" paint-order="stroke" >嶂堂山风景区</text><text x="324.0" y="266.3" fill="#4a8fe0" font-size="12" stroke="#fff" stroke-width="2" stroke-opacity="0.8" paint-order="stroke" >邯郸机场</text><text x="666.0" y="192.3" fill="#8a8c99" font-size="12" stroke="#fff" stroke-width="2" stroke-opacity="0.8" paint-order="stroke" >周寨村</text><text x="603.0" y="245.2" fill="#555a66" font-size="13" stroke="#fff" stroke-width="2" stroke-opacity="0.8" paint-order="stroke" >肥乡区</text><text x="728.0" y="311.2" fill="#555a66" font-size="13" stroke="#fff" stroke-width="2" stroke-opacity="0.8" paint-order="stroke" >广平县</text><text x="55.0" y="312.3" fill="#3d9f7c" font-size="12" stroke="#fff" stroke-width="2" stroke-opacity="0.8" paint-order="stroke" >太行荒工谷</text><circle cx="395.0" cy="6.0" r="8.0" fill="#2fb27a"/><path d="M392.0,12.5 L395.0,18.0 L398.0,12.5Z" fill="#2fb27a"/><path d="M394.0,1.0 l-3,7 h3 v2 h2 v-2 h3 l-3,-7z" fill="#fff"/><circle cx="230.0" cy="59.0" r="8.0" fill="#2fb27a"/><path d="M227.0,65.5 L230.0,71.0 L233.0,65.5Z" fill="#2fb27a"/><path d="M229.0,54.0 l-3,7 h3 v2 h2 v-2 h3 l-3,-7z" fill="#fff"/><circle cx="208.0" cy="120.0" r="9.0" fill="#2fb27a"/><path d="M205.0,127.5 L208.0,131.0 L211.0,127.5Z" fill="#2fb27a"/><path d="M207.0,115.0 l-3,7 h3 v2 h2 v-2 h3 l-3,-7z" fill="#fff"/><circle cx="82.5" cy="250.5" r="8.5" fill="#2fb27a"/><path d="M79.5,257.5 L82.5,262.0 L85.5,257.5Z" fill="#2fb27a"/><path d="M81.5,245.5 l-3,7 h3 v2 h2 v-2 h3 l-3,-7z" fill="#fff"/><circle cx="563.5" cy="77.5" r="8.5" fill="#2fb27a"/><path d="M560.5,84.5 L563.5,88.0 L566.5,84.5Z" fill="#2fb27a"/><path d="M562.5,72.5 l-3,7 h3 v2 h2 v-2 h3 l-3,-7z" fill="#fff"/><circle cx="44.0" cy="309.0" r="9.0" fill="#2fb27a"/><path d="M41.0,316.5 L44.0,320.0 L47.0,316.5Z" fill="#2fb27a"/><path d="M43.0,304.0 l-3,7 h3 v2 h2 v-2 h3 l-3,-7z" fill="#fff"/><rect x="41.0" y="176.0" width="17.0" height="16.0" rx="3" fill="#4d86e8"/><path d="M46.5,191.5 L49.5,194.0 L52.5,191.5Z" fill="#4d86e8"/><path d="M45.0,188.0 v-3.5 a4.5,4.5 0 0 1 9,0 v3.5 M43.5,188.5 h12" fill="none" stroke="#fff" stroke-width="1.5"/><rect x="48.0" y="183.0" width="3" height="3" fill="#fff"/><rect x="342.0" y="173.0" width="17.0" height="16.0" rx="3" fill="#4d86e8"/><path d="M347.5,188.5 L350.5,193.0 L353.5,188.5Z" fill="#4d86e8"/><path d="M346.0,185.0 v-3.5 a4.5,4.5 0 0 1 9,0 v3.5 M344.5,185.5 h12" fill="none" stroke="#fff" stroke-width="1.5"/><rect x="349.0" y="180.0" width="3" height="3" fill="#fff"/><rect x="304.0" y="252.0" width="18.0" height="17.0" rx="3" fill="#4d86e8"/><path d="M310.0,268.5 L313.0,271.0 L316.0,268.5Z" fill="#4d86e8"/><path d="M313.0,255.5 v10 M308.0,261.5 L313.0,258.5 L318.0,261.5 M311.0,265.5 h4" fill="none" stroke="#fff" stroke-width="1.8"/><circle cx="458.5" cy="124.5" r="8.5" fill="#3fa3e0"/><path d="M455.5,131.5 L458.5,135.0 L461.5,131.5Z" fill="#3fa3e0"/><path d="M457.5,119.5 l-3,7 h3 v2 h2 v-2 h3 l-3,-7z" fill="#fff"/><path d="M128,98 C124,90 117,86 117,80 A11,11 0 1 1 139,80 C139,86 132,90 128,98Z" fill="#2f7ee8"/><ellipse cx="128" cy="76" rx="7" ry="3.5" fill="#6aaaf5"/><circle cx="30.5" cy="29" r="19" fill="none" stroke="#d0d0d0" stroke-width="2"/><circle cx="30.5" cy="29" r="18" fill="#fff" stroke="#999" stroke-width="1.3"/><path d="M26.5,19 l4,-4 l4,4 M26.5,39 l4,4 l4,-4 M20.5,25 l-4,4 l4,4 M40.5,25 l4,4 l-4,4" fill="none" stroke="#3f6fc2" stroke-width="2"/><rect x="23.0" y="54.5" width="16.0" height="15.5" fill="#fff" stroke="#b0b0b0" stroke-width="1" rx="1"/><path d="M31,58 v9 M26.5,62.5 h9" stroke="#3f6fc2" stroke-width="2"/><rect x="27.0" y="70.0" width="7.0" height="57.0" fill="#fff" stroke="#b0b0b0" stroke-width="1"/><rect x="27.0" y="127.0" width="7.0" height="42.0" fill="#8fb1ea" stroke="#a9b8d6" stroke-width="1"/><rect x="22.0" y="117.6" width="17.0" height="9.4" fill="#fff" stroke="#b0b0b0" stroke-width="1" rx="1"/><path d="M26.5,122.29999999999995 h9" stroke="#6a7fa8" stroke-width="1.5"/><rect x="23.0" y="169.0" width="16.0" height="16.0" fill="#fff" stroke="#b0b0b0" stroke-width="1" rx="1"/><path d="M26.5,177 h9" stroke="#3f6fc2" stroke-width="2"/><rect x="731.0" y="6.0" width="71.0" height="24.0" fill="#fff" rx="1"/><text x="746.0" y="23.2" fill="#444" font-size="13" stroke="#fff" stroke-width="2" stroke-opacity="0.8" paint-order="stroke" >全屏</text><path d="M781,16 v-4 h4 M789,12 h4 v4 M793,20 v4 h-4 M785,24 h-4 v-4" fill="none" stroke="#555" stroke-width="1.6"/></svg></div>
</div>
</body></html>
